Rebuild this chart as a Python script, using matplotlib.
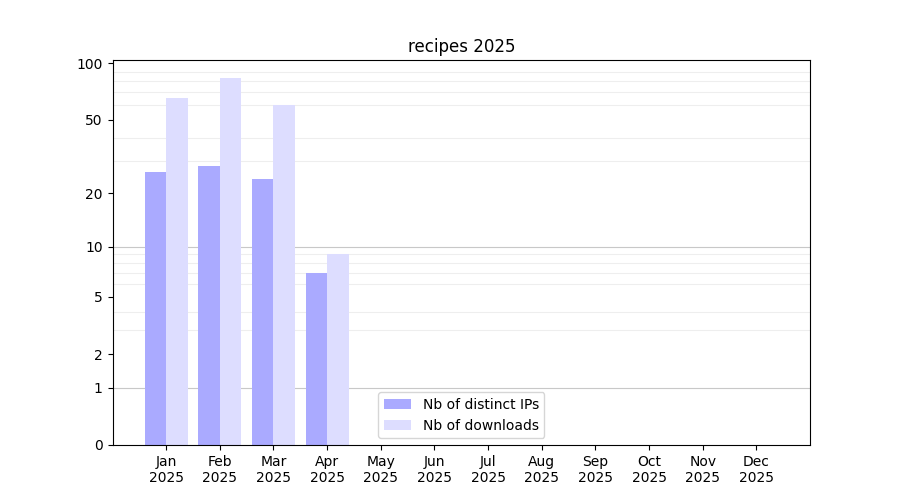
import numpy as np
import matplotlib.pyplot as plt

# monthly stats for 2025
mois = ["Jan", "Feb", "Mar", "Apr", "May", "Jun", "Jul", "Aug", "Sep", "Oct", "Nov", "Dec"]
annee = "2025"
nb_ips = [26, 28, 24, 7]
nb_downloads = [65, 83, 60, 9]

def avant(y):
    return np.log10(1 + np.clip(y, 0, None))

def arriere(y):
    return 10 ** y - 1

fig, ax = plt.subplots(figsize=(9, 5), dpi=100)

x = np.arange(len(mois))
n = len(nb_ips)
ax.bar(x[:n], nb_ips, width=-0.4, align="edge", color="#aaaaff", label="Nb of distinct IPs")
ax.bar(x[:n], nb_downloads, width=0.4, align="edge", color="#ddddff", label="Nb of downloads")

ax.set_yscale("function", functions=(avant, arriere))
ax.set_ylim(0, max(nb_downloads) * 1.25)
ax.set_xlim(-1, 12)

# ticks + grille
ax.set_yticks([0, 1, 2, 5, 10, 20, 50, 100])
ax.set_yticklabels(["0", "1", "2", "5", "10", "20", "50", "100"])
mineurs = list(range(2, 10)) + list(range(20, 100, 10))
ax.set_yticks(mineurs, minor=True)
ax.tick_params(axis="y", which="minor", length=0)
ax.grid(True, axis="y", which="minor", color="#eeeeee", linewidth=0.8)
for v in [1, 10]:
    ax.axhline(v, color="#c8c8c8", linewidth=0.8, zorder=0.5)
ax.set_axisbelow(True)

ax.set_xticks(x)
ax.set_xticklabels([m + "\n" + annee for m in mois])

ax.set_title("recipes 2025")
ax.legend(loc="lower center")

plt.savefig("out.png")
